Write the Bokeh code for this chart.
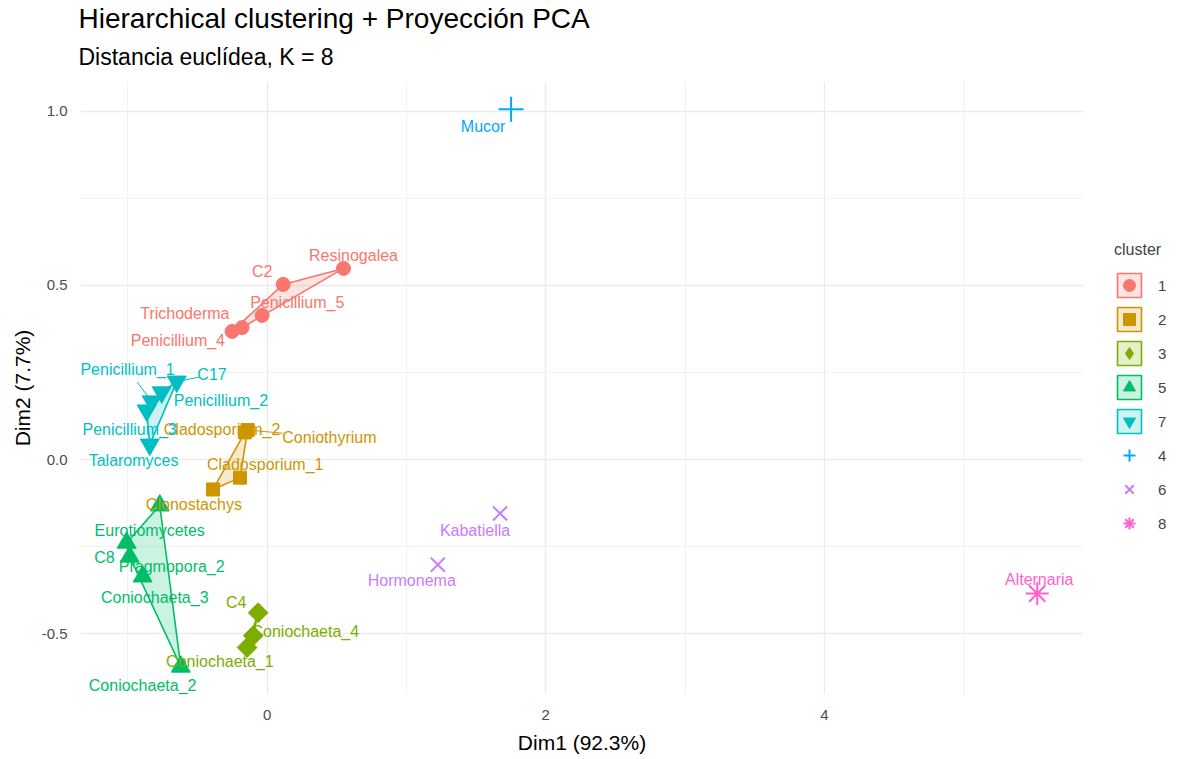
import math
from bokeh.plotting import figure
from bokeh.models import (ColumnDataSource, Title, Legend, LegendItem, FixedTicker,
                          Range1d, PrintfTickFormatter)
from bokeh.core.properties import value
from bokeh.embed import file_html
from bokeh.resources import INLINE

# ---------------- data ----------------
names = ["Resinogalea", "C2", "Penicillium_5", "Trichoderma", "Penicillium_4",
         "Coniothyrium", "Cladosporium_2", "Cladosporium_1", "Clonostachys",
         "C4", "Coniochaeta_4", "Coniochaeta_1",
         "Eurotiomycetes", "C8", "Pragmopora_2", "Coniochaeta_3", "Coniochaeta_2",
         "C17", "Penicillium_2", "Penicillium_1", "Penicillium_3", "Talaromyces",
         "Mucor", "Kabatiella", "Hormonema", "Alternaria"]
dim1 = [0.548, 0.115, -0.036, -0.180, -0.252,
        -0.140, -0.160, -0.195, -0.389,
        -0.065, -0.100, -0.144,
        -0.771, -1.009, -0.987, -0.894, -0.620,
        -0.649, -0.757, -0.829, -0.865, -0.843,
        1.751, 1.672, 1.225, 5.528]
dim2 = [0.549, 0.503, 0.414, 0.379, 0.368,
        0.085, 0.078, -0.052, -0.086,
        -0.440, -0.506, -0.540,
        -0.132, -0.239, -0.279, -0.336, -0.595,
        0.224, 0.193, 0.167, 0.141, 0.043,
        1.006, -0.155, -0.302, -0.385]
cluster = ["1", "1", "1", "1", "1",
           "2", "2", "2", "2",
           "3", "3", "3",
           "5", "5", "5", "5", "5",
           "7", "7", "7", "7", "7",
           "4", "6", "6", "8"]
# repelled label positions (data units)
label_x = [0.620, -0.036, 0.216, -0.591, -0.641,
           0.447, -0.324, -0.014, -0.526,
           -0.223, 0.274, -0.339,
           -0.843, -1.168, -0.685, -0.807, -0.894,
           -0.396, -0.332, -1.002, -0.987, -0.959,
           1.550, 1.492, 1.038, 5.542]
label_y = [0.586, 0.540, 0.451, 0.420, 0.342,
           0.063, 0.086, -0.014, -0.129,
           -0.411, -0.494, -0.580,
           -0.204, -0.282, -0.307, -0.397, -0.649,
           0.244, 0.170, 0.259, 0.086, -0.003,
           0.957, -0.204, -0.348, -0.345]
# labels joined to their point by a repel segment (fraction of the way drawn)
segment_labels = {"Penicillium_1": 0.6, "C17": 0.66, "Coniothyrium": 0.43}

cluster_order = ["1", "2", "3", "5", "7", "4", "6", "8"]
hull_clusters = ["1", "2", "3", "5", "7"]
colors = {"1": "#F8766D", "2": "#CD9600", "3": "#7CAE00", "5": "#00BE67",
          "7": "#00BFC4", "4": "#00A9FF", "6": "#C77CFF", "8": "#FF61CC"}
markers = {"1": "circle", "2": "square", "3": "square", "5": "triangle",
           "7": "inverted_triangle", "4": "cross", "6": "x", "8": "asterisk"}
legend_markers = {"3": "diamond"}
angles = {"3": math.pi / 4}
msize = {"1": 14, "2": 13, "3": 14, "5": 19, "7": 19, "4": 25, "6": 20, "8": 23}

FONT = "Liberation Sans"


def convex_hull(pts):
    pts = sorted(set(pts))
    if len(pts) <= 2:
        return pts

    def cross(o, a, b):
        return (a[0] - o[0]) * (b[1] - o[1]) - (a[1] - o[1]) * (b[0] - o[0])
    lower, upper = [], []
    for q in pts:
        while len(lower) >= 2 and cross(lower[-2], lower[-1], q) <= 0:
            lower.pop()
        lower.append(q)
    for q in reversed(pts):
        while len(upper) >= 2 and cross(upper[-2], upper[-1], q) <= 0:
            upper.pop()
        upper.append(q)
    return lower[:-1] + upper[:-1]


p = figure(frame_width=1003, frame_height=613, title=None,
           x_range=Range1d(-1.34, 5.86), y_range=Range1d(-0.675, 1.086),
           output_backend="svg", toolbar_location=None,
           min_border_left=0, min_border_right=85, min_border_top=0,
           min_border_bottom=0)
p.margin = (4, 0, 0, 7)
p.outline_line_color = None
p.background_fill_color = "white"

# titles (subtitle first, so the main title sits above it)
p.add_layout(Title(text="Distancia euclídea, K = 8", text_font_size="23px",
                   text_font_style="normal", text_font=FONT, text_color="#000000",
                   align="left", offset=-2, standoff=24), "above")
p.add_layout(Title(text="Hierarchical clustering + Proyección PCA", text_font_size="28px",
                   text_font_style="normal", text_font=FONT, text_color="#000000",
                   align="left", offset=-2, standoff=-8), "above")

# axes & grid
for ax in (p.xaxis, p.yaxis):
    ax.axis_line_color = None
    ax.major_tick_line_color = None
    ax.minor_tick_line_color = None
    ax.major_label_text_font = FONT
    ax.major_label_text_font_size = "15px"
    ax.major_label_text_color = "#4D4D4D"
    ax.axis_label_text_font = FONT
    ax.axis_label_text_font_size = "21px"
    ax.axis_label_text_font_style = "normal"
    ax.axis_label_text_color = "#000000"
p.xaxis.axis_label = "Dim1 (92.3%)"
p.yaxis.axis_label = "Dim2 (7.7%)"
p.xaxis.ticker = FixedTicker(ticks=[0, 2, 4], minor_ticks=[-1, 1, 3, 5])
p.yaxis.ticker = FixedTicker(ticks=[-0.5, 0.0, 0.5, 1.0], minor_ticks=[-0.25, 0.25, 0.75])
p.yaxis.formatter = PrintfTickFormatter(format="%.1f")
p.xaxis.major_label_standoff = 9
p.yaxis.major_label_standoff = 7
p.xaxis.axis_label_standoff = 8
p.yaxis.axis_label_standoff = 5
for g in (p.xgrid, p.ygrid):
    g.grid_line_color = "#EBEBEB"
    g.grid_line_width = 1.3
    g.minor_grid_line_color = "#F0F0F0"
    g.minor_grid_line_width = 0.9

# hulls
hull_r = {}
for c in hull_clusters:
    pts = [(x, y) for x, y, k in zip(dim1, dim2, cluster) if k == c]
    h = convex_hull(pts)
    hull_r[c] = p.patch([q[0] for q in h], [q[1] for q in h], fill_color=colors[c],
                        fill_alpha=0.2, line_color=colors[c], line_width=1.6)

# repel segments
sx0, sy0, sx1, sy1, sc = [], [], [], [], []
for n, x, y, lx, ly, k in zip(names, dim1, dim2, label_x, label_y, cluster):
    if n in segment_labels:
        f = segment_labels[n]
        sx0.append(x); sy0.append(y)
        sx1.append(x + f * (lx - x)); sy1.append(y + f * (ly - y))
        sc.append(colors[k])
p.segment(x0=sx0, y0=sy0, x1=sx1, y1=sy1, line_color=sc, line_width=1)

# points
pt_r = {}
leg_r = {}
for c in cluster_order:
    xs = [x for x, k in zip(dim1, cluster) if k == c]
    ys = [y for y, k in zip(dim2, cluster) if k == c]
    lw = 2 if c in ("4", "6", "8") else 1
    if c in legend_markers:
        # legend key shape (drawn underneath the rotated squares, which hide it)
        leg_r[c] = p.scatter(xs, ys, marker=legend_markers[c], size=19,
                             fill_color=colors[c], line_color=colors[c], line_width=lw)
    pt_r[c] = p.scatter(xs, ys, marker=markers[c], size=msize[c], fill_color=colors[c],
                        line_color=colors[c], line_width=lw, angle=angles.get(c, 0))
    if c not in leg_r:
        leg_r[c] = pt_r[c]

# labels
src = ColumnDataSource(dict(x=label_x, y=label_y, text=names,
                            color=[colors[k] for k in cluster]))
p.text(x="x", y="y", text="text", source=src, text_color="color",
       text_font=value(FONT), text_font_size="16px", text_align="center",
       text_baseline="middle")

# legend (right side panel)
items = []
for c in cluster_order:
    rs = ([hull_r[c]] if c in hull_r else []) + [leg_r[c]]
    items.append(LegendItem(label=c, renderers=rs))
legend = Legend(items=items, title="cluster", location=(31, 156),
                glyph_width=30, glyph_height=30, spacing=4, label_standoff=14,
                border_line_color=None, background_fill_alpha=0,
                title_text_font=FONT, title_text_font_size="16px",
                title_text_font_style="normal", title_standoff=11,
                label_text_font=FONT, label_text_font_size="15px",
                margin=0, padding=5)
p.add_layout(legend, "right")

open("out.html", "w").write(file_html(p, INLINE))
